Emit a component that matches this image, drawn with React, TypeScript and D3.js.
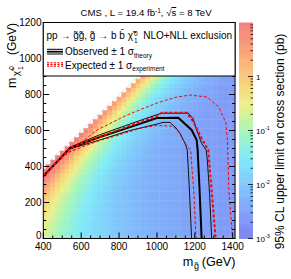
import * as d3 from 'd3';

const W = 291;
const H = 279;

// limit map binning (GeV)
const gluinoMasses = d3.range(400, 1401, 25);
const BIN = 25;

// log10(limit / pb) far from the diagonal, one value per gluino bin
const farLimitLog = [
  -0.82, -0.91, -1.0, -1.1, -1.19, -1.27, -1.35, -1.44, -1.52, -1.59,
  -1.66, -1.73, -1.8, -1.86, -1.92, -1.98, -2.04, -2.08, -2.12, -2.17,
  -2.21, -2.25, -2.28, -2.31, -2.34, -2.36, -2.38, -2.4, -2.42, -2.44,
  -2.46, -2.47, -2.49, -2.5, -2.52, -2.53, -2.55, -2.56, -2.58, -2.59, -2.6,
];

// extra log10(limit) near the diagonal, per mass splitting 25, 50, ... 600 GeV
const splitBoostLog = [
  2.5, 2.15, 1.85, 1.55, 1.32, 1.12, 0.95, 0.8, 0.68, 0.57, 0.48, 0.4,
  0.33, 0.27, 0.22, 0.17, 0.13, 0.1, 0.07, 0.05, 0.03, 0.02, 0.01, 0,
];

// palette (log10 pb -> colour)
const paletteLog = [-3, -2.5, -2, -1.5, -1, -0.5, 0, 0.5, 1];
const paletteColors = ['#7f80f0', '#80a2f8', '#80c8fc', '#80eaf8', '#a8f6b8', '#eef088', '#fcc878', '#f8a078', '#f08282'];

// exclusion contours [m_gluino, m_lsp]
const observed: [number, number][] = [
  [400, 346], [541, 502], [600, 525], [699, 564], [858, 619], [1000, 669], [1113, 671],
  [1183, 603], [1210, 547], [1215, 491], [1225, 270], [1236, 0],
];
const observedUp: [number, number][] = [
  [400, 348], [541, 506], [600, 534], [700, 577], [850, 633], [1000, 688], [1025, 696],
  [1166, 696], [1190, 667], [1210, 603], [1236, 529], [1260, 491], [1266, 436], [1278, 250], [1289, 0],
];
const observedDown: [number, number][] = [
  [400, 344], [541, 498], [600, 516], [700, 548], [850, 598], [1000, 636], [1032, 645],
  [1069, 645], [1100, 615], [1122, 584], [1150, 525], [1160, 491], [1170, 300], [1183, 0],
];
const expected: [number, number][] = [
  [400, 346], [541, 502], [600, 527], [700, 565], [850, 624], [1000, 680], [1025, 699],
  [1157, 699], [1192, 649], [1236, 556], [1271, 491], [1290, 250], [1310, 0],
];
const expectedUp: [number, number][] = [
  [400, 345], [515, 463], [600, 533], [684, 603], [842, 686], [1000, 753], [1100, 785],
  [1175, 797], [1263, 786], [1327, 730], [1364, 642], [1372, 547], [1380, 269], [1399, 0],
];
const expectedDown: [number, number][] = [
  [400, 344], [525, 475], [631, 519], [700, 545], [800, 575], [911, 612], [1000, 628],
  [1085, 624], [1113, 593], [1148, 529], [1178, 491], [1195, 250], [1206, 0],
];

const xTicks = [400, 600, 800, 1000, 1200, 1400];
const yTicks = [0, 200, 400, 600, 800, 1000, 1200];
const zTicks = [{ v: -3, t: '-3' }, { v: -2, t: '-2' }, { v: -1, t: '-1' }, { v: 0, t: '' }];

const FONT = 'Liberation Sans, Arial, Helvetica, sans-serif';

export default function App() {
  const x = d3.scaleLinear().domain([400, 1400]).range([43.3, 232.7]);
  const y = d3.scaleLinear().domain([0, 1200]).range([238.5, 22.5]);
  const L = x(400), R = x(1412.5), T = y(1200), B = y(0);

  const color = d3.scaleLinear<string>().domain(paletteLog).range(paletteColors).clamp(true);

  const cells: { x: number; y: number; w: number; h: number; c: string }[] = [];
  gluinoMasses.forEach((mg, i) => {
    for (let ml = 0; ml <= mg - BIN; ml += BIN) {
      const dm = mg - ml;
      const k = dm / BIN - 1;
      const v = farLimitLog[i] + (k < splitBoostLog.length ? splitBoostLog[k] : 0);
      const x0 = Math.max(x(mg - BIN / 2), L);
      const x1 = x(mg + BIN / 2);
      const y0 = y(ml + BIN / 2);
      const y1 = Math.min(y(ml - BIN / 2), B);
      cells.push({ x: x0, y: y0, w: x1 - x0 + 0.4, h: y1 - y0 + 0.4, c: color(v) });
    }
  });

  const line = d3.line<[number, number]>().x(d => x(d[0])).y(d => y(d[1]));

  const xMinor = d3.range(400, 1401, 50);
  const yMinor = d3.range(0, 1201, 50);

  // colour bar
  const zx0 = 239, zx1 = 253;
  const z = d3.scaleLinear().domain([-3, 1]).range([B, T]);
  const zSteps = d3.range(0, 100);
  const zMinor: number[] = [];
  for (let d = -3; d < 1; d++) for (let m = 2; m <= 9; m++) zMinor.push(d + Math.log10(m));

  return (
    <svg width={W} height={H} style={{ position: 'absolute', left: 0, top: 0, background: '#fff' }} fontFamily={FONT}>
      <defs>
        <clipPath id="frame">
          <rect x={L} y={T} width={R - L} height={B - T} />
        </clipPath>
      </defs>

      <g clipPath="url(#frame)">
        {cells.map((c, i) => (
          <rect key={i} x={c.x} y={c.y} width={c.w} height={c.h} fill={c.c} />
        ))}
        <line x1={x(400)} y1={y(400)} x2={x(1200)} y2={y(1200)} stroke="#aaa" strokeWidth={0.8} strokeDasharray="1 1.5" />

        <path d={line(observedUp)!} fill="none" stroke="#111" strokeWidth={1} />
        <path d={line(observedDown)!} fill="none" stroke="#111" strokeWidth={1} />
        <path d={line(observed)!} fill="none" stroke="#000" strokeWidth={2} />
        <path d={line(expectedUp)!} fill="none" stroke="#f00" strokeWidth={1} strokeDasharray="3 2" />
        <path d={line(expectedDown)!} fill="none" stroke="#f00" strokeWidth={1} strokeDasharray="3 2" />
        <path d={line(expected)!} fill="none" stroke="#f00" strokeWidth={2} strokeDasharray="3 2" />
      </g>

      {/* axis ticks */}
      <g stroke="#000" strokeWidth={1}>
        {xMinor.map(v => {
          const len = v % 200 === 0 ? 6 : 3;
          return <line key={'xm' + v} x1={x(v)} x2={x(v)} y1={B} y2={B - len} />;
        })}
        {yMinor.map(v => {
          const len = v % 200 === 0 ? 6 : 3;
          return (
            <g key={'ym' + v}>
              <line x1={L} x2={L + len} y1={y(v)} y2={y(v)} />
              <line x1={R} x2={R - len} y1={y(v)} y2={y(v)} />
            </g>
          );
        })}
      </g>
      <rect x={L} y={T} width={R - L} height={B - T} fill="none" stroke="#000" strokeWidth={1} />

      {/* tick labels */}
      <g fontSize={10} fill="#000">
        {xTicks.map(v => (
          <text key={'xl' + v} x={x(v)} y={249.5} textAnchor="middle">{v}</text>
        ))}
        {yTicks.map(v => (
          <text key={'yl' + v} x={41.5} y={v === 0 ? 239.3 : y(v) + 3.5} textAnchor="end">{v}</text>
        ))}
      </g>

      {/* axis titles */}
      <g fontSize={12.7}>
        <text x={182.7} y={266}>m</text>
        <text x={194} y={269} fontSize={9}>g̃</text>
        <text x={201.7} y={266}>(GeV)</text>
      </g>
      <g transform="translate(15.5,88) rotate(-90)" fontSize={12.5}>
        <text x={0} y={0}>m</text>
        <text x={12} y={3.5} fontSize={9.5}>χ̃</text>
        <text x={18} y={-2} fontSize={7}>0</text>
        <text x={18} y={7} fontSize={7}>1</text>
        <text x={33} y={0} fontSize={12}>(GeV)</text>
      </g>

      {/* legend */}
      <rect x={L} y={T} width={R - L} height={76 - T} fill="#fff" stroke="#000" strokeWidth={1} />
      <g fontSize={10}>
        <text x={46.5} y={39}>pp → g̃g̃, g̃ → b b̄ χ̃</text>
        <text x={134} y={35.5} fontSize={6.5}>0</text>
        <text x={134} y={43} fontSize={6.5}>1</text>
        <text x={232} y={39} textAnchor="end">NLO+NLL exclusion</text>
        <text x={65} y={55}>
          Observed ± 1 σ<tspan fontSize={6.5} dy={2.5}>theory</tspan>
        </text>
        <text x={65} y={68.5}>
          Expected ± 1 σ<tspan fontSize={6.5} dy={2.5}>experiment</tspan>
        </text>
      </g>
      <g>
        <line x1={47} x2={63} y1={49.3} y2={49.3} stroke="#000" strokeWidth={1} />
        <line x1={47} x2={63} y1={51.7} y2={51.7} stroke="#000" strokeWidth={1.8} />
        <line x1={47} x2={63} y1={54} y2={54} stroke="#000" strokeWidth={1} />
        <line x1={47} x2={63} y1={62.7} y2={62.7} stroke="#f00" strokeWidth={1} strokeDasharray="2 1.5" />
        <line x1={47} x2={63} y1={64.5} y2={64.5} stroke="#f00" strokeWidth={1.6} strokeDasharray="2 1.5" />
        <line x1={47} x2={63} y1={66.3} y2={66.3} stroke="#f00" strokeWidth={1} strokeDasharray="2 1.5" />
      </g>

      {/* colour bar */}
      <g>
        {zSteps.map(i => {
          const v0 = -3 + (4 * i) / 100;
          const v1 = -3 + (4 * (i + 1)) / 100;
          return <rect key={'z' + i} x={zx0} y={z(v1)} width={zx1 - zx0} height={z(v0) - z(v1) + 0.4} fill={color((v0 + v1) / 2)} />;
        })}
        <g stroke="#000" strokeWidth={0.8}>
          {zTicks.map(t => (
            <line key={'zt' + t.v} x1={zx1} x2={zx1 - 5} y1={z(t.v)} y2={z(t.v)} />
          ))}
          {zMinor.map((v, i) => (
            <line key={'zm' + i} x1={zx1} x2={zx1 - 2.5} y1={z(v)} y2={z(v)} />
          ))}
        </g>
        <g fontSize={8}>
          {zTicks.map(t =>
            t.t === '' ? (
              <text key={'zl' + t.v} x={256} y={z(t.v) + 3}>1</text>
            ) : (
              <text key={'zl' + t.v} x={256} y={z(t.v) + 3}>
                10<tspan fontSize={5.5} dy={-3.5}>{t.t}</tspan>
              </text>
            )
          )}
        </g>
        <text transform="translate(284,141.5) rotate(-90)" textAnchor="middle" fontSize={12}>
          95% CL upper limit on cross section (pb)
        </text>
      </g>

      {/* title */}
      <text x={146} y={16} textAnchor="middle" fontSize={9.6}>
        CMS , L = 19.4 fb<tspan fontSize={6.5} dy={-3.5}>-1</tspan>
        <tspan dy={3.5}>, √</tspan>
        <tspan textDecoration="overline">s</tspan> = 8 TeV
      </text>
    </svg>
  );
}
